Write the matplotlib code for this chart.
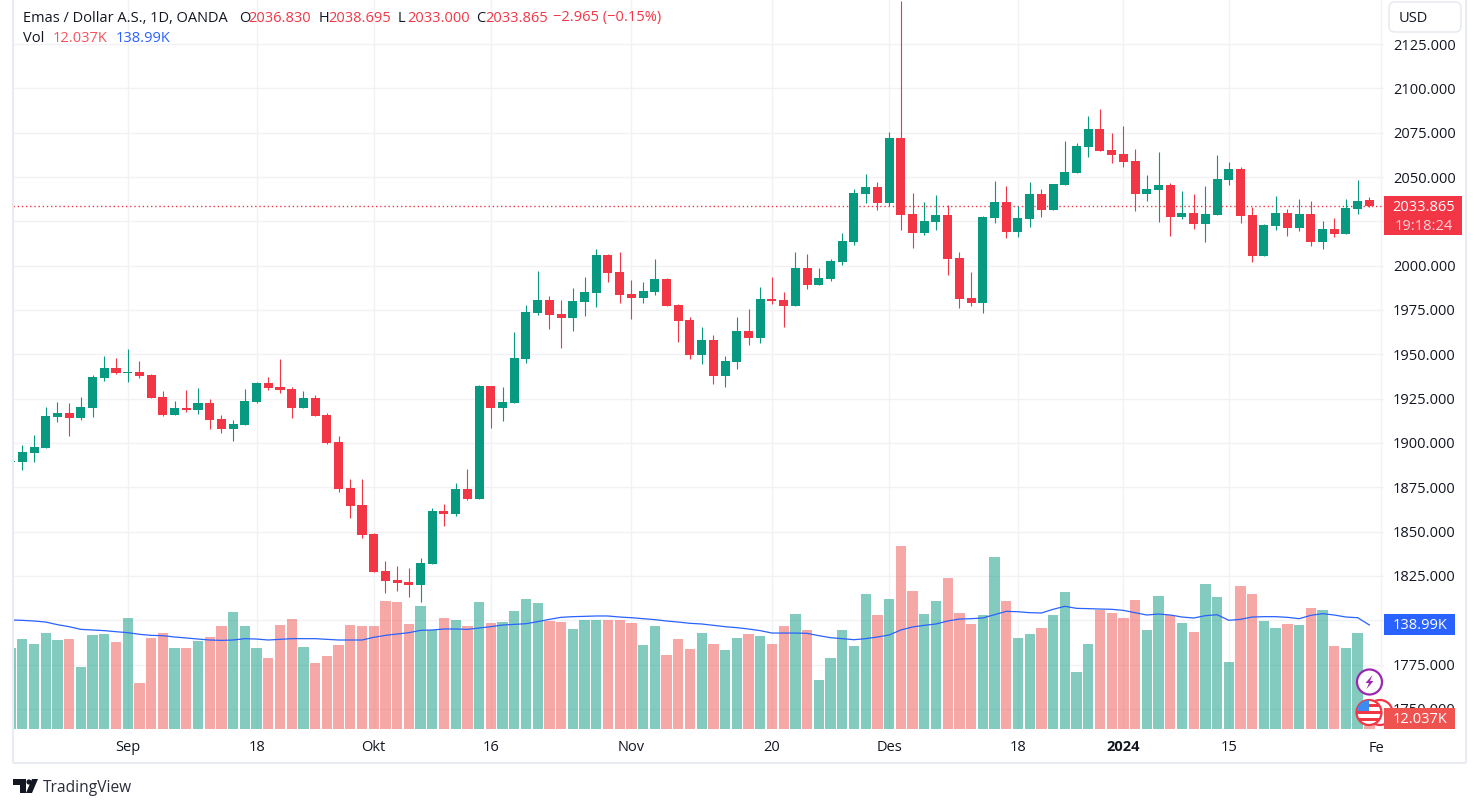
import numpy as np
import matplotlib
matplotlib.use("Agg")
import matplotlib.pyplot as plt
from matplotlib.patches import Circle, FancyBboxPatch, Polygon, Rectangle

plt.rcParams['font.family'] = ['Open Sans', 'DejaVu Sans']

# daily candles, first one is cut off by the left edge of the pane
opens = [1889.0, 1889.3, 1894.3, 1897.2, 1914.6, 1916.9, 1914.1, 1919.7, 1936.6, 1942.3, 1939.5, 1940.0,
         1938.3, 1925.9, 1915.8, 1919.7, 1918.6, 1922.5, 1913.5, 1907.9, 1910.1, 1923.1, 1933.8, 1931.6,
         1930.4, 1919.7, 1925.4, 1915.8, 1900.5, 1874.6, 1865.0, 1848.6, 1827.8, 1822.7, 1821.6, 1819.9,
         1831.7, 1861.6, 1859.9, 1874.0, 1868.4, 1932.1, 1919.7, 1922.5, 1947.3, 1973.3, 1980.6, 1972.7,
         1970.5, 1979.5, 1984.6, 2006.0, 1996.4, 1984.0, 1981.8, 1985.1, 1992.5, 1977.8, 1969.3, 1949.6,
         1958.1, 1937.8, 1945.7, 1963.1, 1959.2, 1981.2, 1980.6, 1977.2, 1998.7, 1989.1, 1992.5, 2002.1,
         2013.3, 2040.4, 2044.4, 2035.3, 2072.0, 2029.1, 2018.4, 2024.6, 2028.6, 2004.3, 1981.8, 1978.9,
         2026.9, 2035.9, 2019.0, 2026.3, 2040.4, 2031.4, 2045.5, 2052.3, 2066.9, 2077.1, 2065.2, 2063.0,
         2059.0, 2040.4, 2042.7, 2045.5, 2027.4, 2029.7, 2023.5, 2028.6, 2048.3, 2054.5, 2028.6, 2005.4,
         2022.4, 2029.7, 2021.2, 2029.1, 2013.3, 2020.7, 2017.9, 2032.0, 2036.83]
highs = [1889.9, 1898.8, 1904.5, 1920.3, 1923.1, 1922.5, 1925.9, 1938.3, 1949.0, 1947.9, 1953.0, 1946.2,
         1938.9, 1929.3, 1923.7, 1929.9, 1931.0, 1924.8, 1915.8, 1912.9, 1930.4, 1934.4, 1937.2, 1947.3,
         1931.6, 1929.3, 1927.0, 1916.9, 1903.9, 1879.7, 1879.7, 1849.2, 1833.4, 1830.6, 1829.5, 1835.1,
         1863.3, 1865.6, 1877.4, 1885.3, 1932.7, 1932.1, 1931.6, 1962.6, 1977.8, 1997.0, 1982.9, 1980.6,
         1987.4, 1993.6, 2009.4, 2006.6, 2007.7, 1991.9, 1990.8, 2003.8, 1993.0, 1978.4, 1971.0, 1965.4,
         1960.9, 1949.0, 1971.0, 1975.5, 1988.0, 1993.6, 1985.1, 2007.7, 2006.6, 1998.7, 2003.8, 2018.4,
         2043.2, 2051.7, 2047.2, 2075.4, 2149.0, 2041.0, 2035.9, 2039.8, 2034.2, 2007.7, 1996.4, 2028.0,
         2047.7, 2044.9, 2033.6, 2047.2, 2043.2, 2046.1, 2070.3, 2069.2, 2084.4, 2088.4, 2074.8, 2078.8,
         2065.8, 2051.1, 2064.1, 2046.6, 2042.1, 2040.4, 2044.9, 2062.4, 2058.5, 2055.6, 2033.1, 2023.5,
         2039.3, 2032.0, 2037.6, 2036.5, 2025.2, 2026.9, 2037.6, 2048.3, 2038.695]
lows = [1888.9, 1884.7, 1889.3, 1897.2, 1911.8, 1903.9, 1912.9, 1914.6, 1934.9, 1938.9, 1934.4, 1936.6,
        1925.4, 1915.2, 1915.8, 1917.5, 1916.3, 1907.9, 1905.6, 1901.1, 1910.1, 1922.5, 1929.9, 1928.2,
        1914.1, 1919.7, 1915.2, 1899.4, 1872.3, 1857.7, 1846.4, 1827.2, 1815.4, 1816.5, 1813.1, 1810.3,
        1831.7, 1853.2, 1858.8, 1867.8, 1868.4, 1908.4, 1912.4, 1922.5, 1945.1, 1972.2, 1964.3, 1953.6,
        1963.1, 1971.6, 1976.7, 1990.8, 1978.9, 1969.9, 1978.9, 1983.4, 1977.2, 1956.9, 1947.3, 1944.5,
        1933.2, 1931.6, 1941.7, 1955.2, 1956.4, 1978.4, 1965.4, 1977.2, 1986.8, 1989.1, 1991.3, 2000.4,
        2011.6, 2035.3, 2031.4, 2033.6, 2020.1, 2010.0, 2017.3, 2020.1, 1994.7, 1976.1, 1977.2, 1973.3,
        2024.1, 2015.6, 2016.2, 2021.8, 2027.4, 2031.4, 2045.5, 2052.3, 2061.3, 2064.7, 2057.9, 2055.6,
        2030.8, 2036.5, 2024.6, 2016.7, 2026.3, 2020.7, 2013.3, 2028.6, 2045.5, 2024.1, 2002.1, 2005.4,
        2020.1, 2016.7, 2019.5, 2011.1, 2009.4, 2016.2, 2017.9, 2029.1, 2033.0]
closes = [1889.6, 1894.9, 1897.7, 1915.2, 1916.9, 1914.1, 1920.3, 1937.2, 1942.3, 1939.5, 1940.0, 1937.8,
          1925.4, 1915.8, 1919.7, 1918.6, 1922.5, 1912.9, 1907.9, 1910.7, 1923.7, 1933.8, 1931.0, 1929.9,
          1919.7, 1925.4, 1915.2, 1900.0, 1874.0, 1864.4, 1848.1, 1827.2, 1822.1, 1821.0, 1819.9, 1832.3,
          1861.6, 1859.9, 1874.0, 1868.4, 1932.1, 1919.7, 1923.1, 1947.9, 1973.9, 1980.6, 1972.2, 1970.5,
          1980.1, 1985.1, 2006.0, 1995.9, 1983.4, 1981.8, 1985.7, 1992.5, 1977.2, 1968.8, 1949.6, 1958.1,
          1937.8, 1946.2, 1963.1, 1959.2, 1981.2, 1980.1, 1977.2, 1998.7, 1989.1, 1993.0, 2002.6, 2013.9,
          2041.0, 2044.4, 2035.3, 2072.0, 2028.6, 2018.4, 2025.2, 2028.6, 2003.8, 1981.2, 1978.9, 2027.4,
          2035.9, 2019.0, 2026.9, 2040.4, 2031.4, 2046.1, 2052.8, 2067.5, 2077.1, 2064.7, 2062.4, 2058.5,
          2040.4, 2043.2, 2045.5, 2027.4, 2029.7, 2023.5, 2029.1, 2048.9, 2054.5, 2028.0, 2005.4, 2022.9,
          2029.7, 2021.2, 2029.1, 2013.3, 2020.7, 2017.9, 2032.5, 2036.5, 2033.865]

# volume in thousands
volume = [108.2, 120.2, 113.6, 128.2, 118.9, 120.2, 82.8, 125.6, 126.9, 116.2, 148.3, 61.5,
          121.6, 128.2, 108.2, 108.2, 117.6, 122.9, 137.6, 156.3, 137.6, 108.2, 94.8, 138.9,
          146.9, 109.5, 88.2, 97.5, 112.2, 138.9, 137.6, 137.6, 171.0, 169.7, 140.3, 164.3,
          132.3, 148.3, 145.6, 137.6, 169.7, 141.6, 142.9, 157.6, 173.7, 168.3, 144.3, 142.9,
          133.6, 145.6, 145.6, 145.6, 145.6, 141.6, 112.2, 137.6, 98.9, 120.2, 106.9, 128.2,
          113.6, 105.5, 121.6, 126.9, 124.2, 113.6, 137.6, 153.6, 132.3, 65.5, 94.8, 132.3,
          110.9, 180.3, 152.3, 173.7, 244.5, 184.4, 153.6, 171.0, 201.7, 155.0, 140.3, 152.3,
          229.8, 171.0, 121.6, 126.9, 134.9, 152.3, 183.0, 76.1, 113.6, 159.0, 155.0, 148.3,
          172.3, 132.3, 177.7, 152.3, 141.6, 129.6, 193.7, 176.3, 89.5, 191.0, 180.3, 144.3,
          134.9, 140.3, 138.9, 161.6, 159.0, 110.9, 108.2, 128.2, 12.037]
volume_ma = [145.6, 145.2, 144.3, 142.9, 139.4, 136.7, 133.1, 132.3, 131.4, 130.0, 128.7, 126.5,
             125.1, 124.7, 122.9, 121.6, 120.2, 118.9, 118.4, 118.9, 120.7, 120.2, 118.9, 119.8,
             120.7, 120.7, 120.7, 119.8, 118.9, 118.9, 118.9, 122.5, 125.1, 126.9, 128.7, 131.8,
             132.3, 133.6, 133.6, 133.1, 134.9, 136.7, 138.9, 139.8, 140.7, 143.4, 146.5, 149.2,
             150.1, 150.5, 151.0, 151.0, 149.6, 148.7, 147.4, 146.1, 144.3, 142.9, 141.2, 140.3,
             138.5, 136.7, 135.4, 133.6, 131.4, 128.2, 128.2, 128.2, 127.8, 124.7, 122.0, 120.7,
             119.3, 120.7, 122.9, 125.6, 132.3, 136.3, 138.5, 140.3, 144.3, 146.9, 147.4, 148.3,
             152.7, 157.2, 156.7, 155.4, 155.0, 159.9, 163.9, 161.2, 160.8, 160.3, 159.9, 158.5,
             155.4, 152.3, 153.6, 152.3, 149.6, 148.3, 151.4, 152.7, 145.2, 146.5, 149.6, 150.1,
             150.1, 149.2, 147.4, 151.8, 154.1, 152.3, 149.6, 148.7, 138.99]

price_ticks = [1750, 1775, 1800, 1825, 1850, 1875, 1900, 1925, 1950, 1975, 2000, 2025, 2050, 2075, 2100, 2125]
hidden_ticks = [1800, 2025]  # sit under the value tags
time_ticks = [9, 20, 30, 40, 52, 64, 74, 85, 94, 103, 116]
time_labels = ["Sep", "18", "Okt", "16", "Nov", "20", "Des", "18", "2024", "15", ""]

UP = "#089981"
DOWN = "#F23645"
VOL_DOWN = "#EF5350"
GRID = "#F2F2F5"
TEXT = "#131722"
FS = 10.5
W, H = 1479, 808
PANE_L, PANE_R, PANE_B = 13, 1384, 729
PRICE_MIN, PRICE_MAX = 1738.67, 2149.83
VOL_MAX = 974.0

fig = plt.figure(figsize=(W / 100, H / 100), dpi=100)
ax = fig.add_axes([PANE_L / W, (H - PANE_B) / H, (PANE_R - PANE_L) / W, PANE_B / H])

x = np.arange(-1, len(opens) - 1)
o = np.array(opens)
c = np.array(closes)
colors = [UP if cl >= op else DOWN for op, cl in zip(opens, closes)]
vol_colors = [UP if cl >= op else VOL_DOWN for op, cl in zip(opens, closes)]

ax.vlines(x, lows, highs, colors=colors, linewidth=0.8, zorder=3)
ax.bar(x, np.abs(c - o), bottom=np.minimum(o, c), width=0.77, color=colors, zorder=4)
ax.axhline(closes[-1], color=DOWN, linewidth=1, linestyle=(0, (1, 2)), zorder=2)

# volume sits in its own scale over the same pane
vol_ax = ax.twinx()
vol_ax.bar(x, volume, width=0.88, color=vol_colors, alpha=0.5, linewidth=0)
vol_ax.plot(x, volume_ma, color="#2962FF", linewidth=0.9)
vol_ax.set_ylim(0, VOL_MAX)
vol_ax.set_axis_off()

ax.set_xlim(-0.794, 116.25)
ax.set_ylim(PRICE_MIN, PRICE_MAX)
ax.set_xticks(time_ticks)
ax.set_xticklabels(time_labels)
ax.set_yticks(price_ticks)
ax.set_yticklabels(["" if p in hidden_ticks else f"{p}.000" for p in price_ticks])
ax.yaxis.tick_right()  # twinx moves them back to the left
ax.tick_params(axis='both', length=0, labelsize=FS, labelcolor=TEXT)
ax.tick_params(axis='y', pad=6.5)
ax.tick_params(axis='x', pad=8)
ax.get_xticklabels()[8].set_fontweight('bold')
ax.grid(True, color=GRID, linewidth=1)
ax.set_axisbelow(True)
for s in ax.spines.values():
    s.set_visible(False)


def price_y(p):
    return PANE_B - (p - PRICE_MIN) / (PRICE_MAX - PRICE_MIN) * PANE_B


def vol_y(v):
    return PANE_B - v / VOL_MAX * PANE_B


# everything around the chart, in screen pixels
ui = fig.add_axes([0, 0, 1, 1], zorder=5)
ui.set_xlim(0, W)
ui.set_ylim(H, 0)
ui.set_axis_off()

for xs, ys in [((13, 13), (0, 763)), ((13, 1466), (763, 763)), ((1466, 1466), (0, 763))]:
    ui.plot(xs, ys, color="#E9EBF2", linewidth=1.5, solid_capstyle='butt')

ui.add_patch(FancyBboxPatch((1389, 2), 72, 30, boxstyle="round,pad=0,rounding_size=6",
                            facecolor="white", edgecolor="#E6E8F0", linewidth=1))
ui.text(1413.5, 18, "USD", fontsize=FS, color=TEXT, ha='center', va='center')

# legend rows
ui.text(23, 18, "Emas / Dollar A.S., 1D, OANDA", fontsize=FS, color=TEXT, va='center')
for tx, lab, val in [(239, "O", "2036.830"), (319, "H", "2038.695"), (398, "L", "2033.000"), (476, "C", "2033.865")]:
    ui.text(tx, 18, lab, fontsize=FS, color=TEXT, va='center')
    ui.text(tx + 9.5, 18, val, fontsize=FS, color=DOWN, va='center')
ui.text(553, 18, "\u22122.965 (\u22120.15%)", fontsize=FS, color=DOWN, va='center')
ui.text(23, 38, "Vol", fontsize=FS, color=TEXT, va='center')
ui.text(53, 38, "12.037K", fontsize=FS, color="#F7525F", va='center')
ui.text(116, 38, "138.99K", fontsize=FS, color="#2962FF", va='center')

ui.text(1369, 748, "Fe", fontsize=FS, color=TEXT, va='center')

# icons near the last bar
ui.add_patch(Circle((1369.5, 682), 12.5, facecolor="white", edgecolor="#9C27B0", linewidth=1.6))
ui.add_patch(Polygon([(1372.5, 675), (1365.5, 683), (1369, 683), (1366.5, 689), (1373.5, 681), (1370, 681)],
                     facecolor="#9C27B0", edgecolor="none"))
ui.add_patch(Circle((1380, 712.5), 12.5, facecolor="white", edgecolor="#F23645", linewidth=1.6))
flag = Circle((1369, 712.5), 12.5, facecolor="white", edgecolor="#F23645", linewidth=1.6)
ui.add_patch(flag)
for sy in [704, 711, 718]:
    r = Rectangle((1357, sy), 24, 3.2, facecolor="#F23645", edgecolor="none")
    r.set_clip_path(flag)
    ui.add_patch(r)
canton = Rectangle((1357, 700), 12, 11, facecolor="#3D8BF0", edgecolor="none")
canton.set_clip_path(flag)
ui.add_patch(canton)

# value tags on the scale
y_close = price_y(closes[-1])
ui.add_patch(Rectangle((PANE_R, y_close - 10), 78, 39, facecolor=DOWN, edgecolor="none"))
ui.text(1424, y_close + 2, f"{closes[-1]:.3f}", fontsize=FS, color="white", ha='center', va='center')
ui.text(1424, y_close + 21, "19:18:24", fontsize=FS, color="#FFD5D9", ha='center', va='center')

y_ma = vol_y(volume_ma[-1])
ui.add_patch(Rectangle((PANE_R, y_ma - 10.5), 71, 21, facecolor="#2962FF", edgecolor="none"))
ui.text(1420, y_ma + 1, "138.99K", fontsize=FS, color="white", ha='center', va='center')

y_vol = min(vol_y(volume[-1]), PANE_B - 10.5)
ui.add_patch(Rectangle((PANE_R, y_vol - 10.5), 71, 21, facecolor="#EF5350", edgecolor="none"))
ui.text(1420, y_vol + 1, "12.037K", fontsize=FS, color="white", ha='center', va='center')

# TradingView mark
ui.add_patch(Polygon([(13, 779), (26, 779), (26, 793), (20, 793), (20, 785), (13, 785)],
                     facecolor=TEXT, edgecolor="none"))
ui.add_patch(Circle((29, 782), 2.6, facecolor=TEXT, edgecolor="none"))
ui.add_patch(Polygon([(32, 779), (38, 779), (32, 793), (26, 793)], facecolor=TEXT, edgecolor="none"))
ui.text(43, 788.5, "TradingView", fontsize=11.2, color="#2A2E39", va='center')

fig.savefig("out.png", dpi=100)
